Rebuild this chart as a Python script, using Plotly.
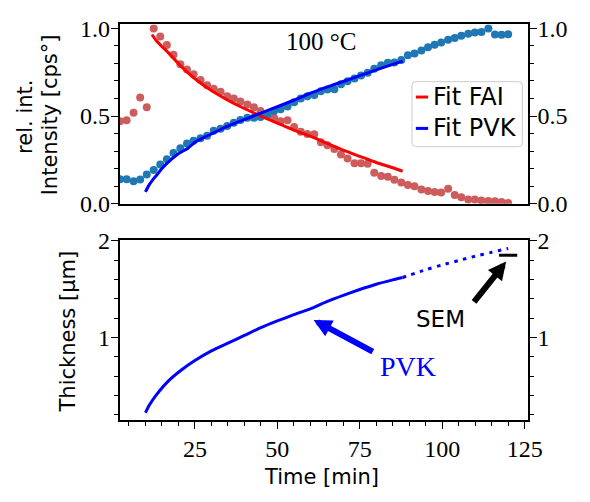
import plotly.graph_objects as go

# Measurement times [min] and normalised XRD intensities
time_min = [2.3, 4.3, 6.4, 8.4, 10.4, 12.5, 14.5, 16.5, 18.5, 20.6, 22.6, 24.6, 26.7, 28.7,
            30.7, 32.8, 34.8, 36.8, 38.8, 40.9, 42.9, 44.9, 47.0, 49.0, 51.0, 53.1, 55.1,
            57.1, 59.1, 61.2, 63.2, 65.2, 67.3, 69.3, 71.3, 73.4, 75.4, 77.4, 79.4, 81.5,
            83.5, 85.5, 87.6, 89.6, 91.6, 93.7, 95.7, 97.7, 99.7, 101.8, 103.8, 105.8,
            107.9, 109.9, 111.9, 114.0, 116.0, 118.0, 120.0]
fai_intensity = [0.47, 0.476, 0.518, 0.605, 0.55, 1.0, 0.953, 0.905, 0.85, 0.795, 0.765,
                 0.738, 0.705, 0.675, 0.655, 0.638, 0.613, 0.6, 0.583, 0.566, 0.55, 0.528,
                 0.505, 0.49, 0.47, 0.476, 0.437, 0.41, 0.398, 0.396, 0.351, 0.333, 0.312,
                 0.28, 0.258, 0.231, 0.231, 0.228, 0.176, 0.158, 0.154, 0.137, 0.12, 0.106,
                 0.1, 0.081, 0.072, 0.067, 0.063, 0.085, 0.049, 0.036, 0.024, 0.024, 0.018,
                 0.015, 0.013, 0.009, 0.004]
pvk_intensity = [0.139, 0.139, 0.128, 0.138, 0.166, 0.192, 0.224, 0.253, 0.289, 0.316, 0.343,
                 0.359, 0.373, 0.387, 0.416, 0.427, 0.443, 0.461, 0.477, 0.49, 0.49, 0.494,
                 0.51, 0.528, 0.538, 0.555, 0.578, 0.6, 0.613, 0.62, 0.641, 0.651, 0.653,
                 0.681, 0.699, 0.714, 0.731, 0.747, 0.77, 0.789, 0.804, 0.806, 0.82, 0.847,
                 0.857, 0.874, 0.892, 0.906, 0.92, 0.935, 0.945, 0.958, 0.969, 0.976, 0.979,
                 1.0, 0.965, 0.964, 0.967]

# Fitted curves
fai_fit_t = [12, 13.2, 15, 17, 20, 23, 26, 30, 35, 40, 45, 50, 55, 60, 65, 70, 75, 80, 85, 88]
fai_fit_v = [0.965, 0.932, 0.897, 0.86, 0.8, 0.745, 0.698, 0.645, 0.59, 0.543, 0.5, 0.46,
             0.42, 0.385, 0.345, 0.305, 0.27, 0.235, 0.205, 0.185]
pvk_fit_t = [10, 11, 12.2, 13.5, 15, 18, 20, 23, 25, 28, 30, 35, 40, 45, 50, 55, 60, 65, 70,
             75, 80, 85, 88]
pvk_fit_v = [0.067, 0.103, 0.136, 0.165, 0.2, 0.255, 0.285, 0.318, 0.35, 0.38, 0.398, 0.443,
             0.48, 0.517, 0.553, 0.59, 0.63, 0.665, 0.697, 0.73, 0.763, 0.795, 0.813]

# Perovskite layer thickness [um] from the fit, and its extrapolation
thick_t = [10, 11.2, 13.2, 17, 21, 25, 30, 35, 40, 45, 50, 55, 60, 65, 70, 75, 80, 85, 88]
thick_d = [0.22, 0.30, 0.40, 0.55, 0.665, 0.76, 0.86, 0.94, 1.02, 1.10, 1.17, 1.235, 1.295,
           1.37, 1.435, 1.495, 1.55, 1.595, 1.62]
extrap_t = [88, 95, 100, 105, 110, 115, 120]
extrap_d = [1.62, 1.70, 1.75, 1.795, 1.84, 1.88, 1.92]

# Thickness measured by SEM
sem_t = [120]
sem_d = [1.85]

W, H = 590, 502


def fx(p):
    return p / W


def fy(p):
    return 1 - p / H


SERIF = "Liberation Serif"
SANS = "DejaVu Sans"
XR = [2.16, 126.0]
XDOM = [fx(122.7), fx(541.7)]

fig = go.Figure()

fig.add_trace(go.Scatter(x=time_min, y=fai_intensity, mode="markers",
                         marker=dict(color="#cd5c5c", size=8), xaxis="x", yaxis="y"))
fig.add_trace(go.Scatter(x=time_min, y=pvk_intensity, mode="markers",
                         marker=dict(color="#1f77b4", size=8), xaxis="x", yaxis="y3"))
fig.add_trace(go.Scatter(x=fai_fit_t, y=fai_fit_v, mode="lines", name="Fit FAI",
                         line=dict(color="#ff0000", width=3, shape="spline", smoothing=0.6),
                         xaxis="x", yaxis="y3"))
fig.add_trace(go.Scatter(x=pvk_fit_t, y=pvk_fit_v, mode="lines", name="Fit PVK",
                         line=dict(color="#0000ff", width=3, shape="spline", smoothing=0.6),
                         xaxis="x", yaxis="y3"))

fig.add_trace(go.Scatter(x=thick_t, y=thick_d, mode="lines",
                         line=dict(color="#0000ff", width=3, shape="spline", smoothing=0.6),
                         xaxis="x2", yaxis="y2"))
fig.add_trace(go.Scatter(x=extrap_t, y=extrap_d, mode="lines",
                         line=dict(color="#0000ff", width=3, dash="3.5px,5.5px",
                                   shape="spline", smoothing=0.6),
                         xaxis="x2", yaxis="y4"))
fig.add_trace(go.Scatter(x=sem_t, y=sem_d, mode="markers",
                         marker=dict(symbol="line-ew", size=13,
                                     line=dict(color="black", width=3)),
                         xaxis="x2", yaxis="y4"))

tickfont = dict(family=SERIF, size=24, color="black")
common = dict(showgrid=False, zeroline=False, showline=True, linecolor="black",
              linewidth=1.5, tickcolor="black", tickwidth=1.3, tickfont=tickfont)

top_y = dict(range=[0, 1.023], domain=[fy(201.7), fy(13)], tickmode="linear", tick0=0,
             dtick=0.5, tickformat=".1f", ticks="outside", ticklen=7, ticklabelstandoff=-4,
             minor=dict(tickmode="linear", tick0=0, dtick=0.1, ticks="outside", ticklen=4,
                        tickcolor="black", tickwidth=1.1),
             **common)
bot_y = dict(range=[0.146, 2.007], domain=[fy(429.3), fy(240)], tickmode="array",
             tickvals=[1, 2], ticktext=["1", "2"], ticks="outside", ticklen=7,
             ticklabelstandoff=-4,
             minor=dict(tickmode="linear", tick0=0, dtick=0.2, ticks="outside", ticklen=4,
                        tickcolor="black", tickwidth=1.1),
             **common)

fig.update_layout(
    width=W, height=H, margin=dict(l=0, r=0, t=0, b=0),
    paper_bgcolor="white", plot_bgcolor="white", showlegend=False,
    xaxis=dict(range=XR, domain=XDOM, anchor="y", showticklabels=False, ticks="",
               mirror=True, **common),
    yaxis=dict(anchor="x", mirror=True, **top_y),
    yaxis3=dict(anchor="x", overlaying="y", side="right", **top_y),
    xaxis2=dict(range=XR, domain=XDOM, anchor="y2", tickmode="linear", tick0=0, dtick=25,
                ticks="outside", ticklen=7, mirror=True, ticklabelstandoff=0,
                minor=dict(tickmode="linear", tick0=0, dtick=5, ticks="outside", ticklen=4,
                           tickcolor="black", tickwidth=1.1),
                **common),
    yaxis2=dict(anchor="x2", mirror=True, **bot_y),
    yaxis4=dict(anchor="x2", overlaying="y2", side="right", **bot_y),
)


def text(t, x, y, size, family=SANS, color="black", angle=0, xanchor="center"):
    fig.add_annotation(text=t, x=fx(x), y=fy(y), xref="paper", yref="paper",
                       showarrow=False, textangle=angle, xanchor=xanchor, yanchor="middle",
                       font=dict(family=family, size=size, color=color))


text("100 °C", 329, 31, 25, family=SERIF)
text("rel. int.", 25, 110, 21, angle=-90)
text("Intensity [cps°]", 51, 108, 21, angle=-90)
text("Thickness [µm]", 70, 336, 21, angle=-90)
text("Time [min]", 330, 489, 21)
text("SEM", 452, 322.7, 23)
text("PVK", 418.3, 372.7, 28, family=SERIF, color="#0000ff")

# Arrows pointing at the curve and at the SEM value
for head, tail, col in [((119.4, 1.784), (109.3, 1.351), "black"),
                        ((61.0, 1.181), (79.4, 0.844), "#0000ff")]:
    fig.add_annotation(x=head[0], y=head[1], ax=tail[0], ay=tail[1], xref="x2", yref="y2",
                       axref="x2", ayref="y2", text="", showarrow=True, arrowhead=2,
                       arrowsize=0.6, arrowwidth=6, arrowcolor=col)

# Legend box for the two fits
x0, x1, y0, y1, r = 422.7, 536.0, 73.3, 141.7, 4
path = (f"M {fx(x0 + r)},{fy(y0)} L {fx(x1 - r)},{fy(y0)} Q {fx(x1)},{fy(y0)} {fx(x1)},{fy(y0 + r)} "
        f"L {fx(x1)},{fy(y1 - r)} Q {fx(x1)},{fy(y1)} {fx(x1 - r)},{fy(y1)} "
        f"L {fx(x0 + r)},{fy(y1)} Q {fx(x0)},{fy(y1)} {fx(x0)},{fy(y1 - r)} "
        f"L {fx(x0)},{fy(y0 + r)} Q {fx(x0)},{fy(y0)} {fx(x0 + r)},{fy(y0)} Z")
fig.add_shape(type="path", path=path, xref="paper", yref="paper",
              fillcolor="rgba(255,255,255,0.8)", line=dict(color="#cccccc", width=1))
for yy, col, label in [(89.5, "#ff0000", "Fit FAI"), (122.5, "#0000ff", "Fit PVK")]:
    fig.add_shape(type="line", x0=fx(426.7), x1=fx(439.3), y0=fy(yy), y1=fy(yy),
                  xref="paper", yref="paper", line=dict(color=col, width=3))
    text(label, 442.5, yy, 24, xanchor="left")

fig.write_html("out.html")
